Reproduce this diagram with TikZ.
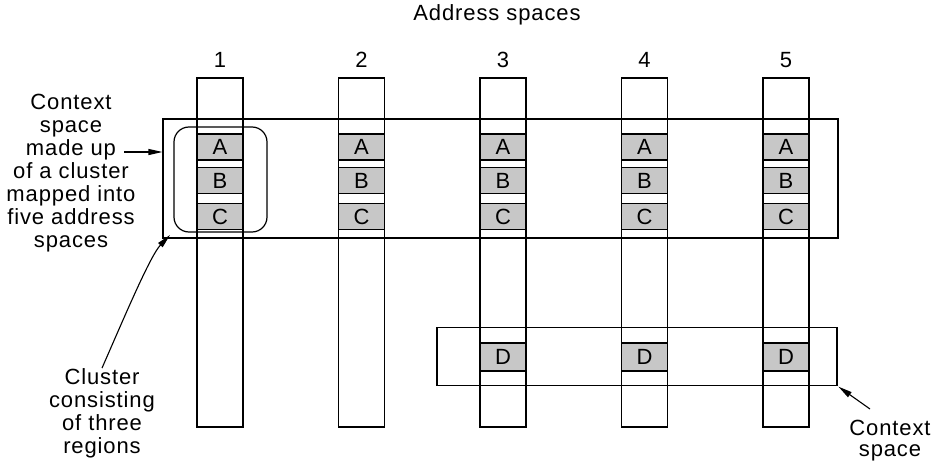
\documentclass[tikz,border=0pt]{standalone}
\usepackage{fontspec}
\setmainfont[LetterSpace=4]{Liberation Sans}
\usepackage{tikz}
\usetikzlibrary{calc,arrows.meta,positioning}

\tikzset{
  lbl/.style={font=\fontsize{22}{23}\selectfont, align=center, inner sep=0pt},
  column/.style={draw, line width=1.8pt, minimum width=46pt, minimum height=349pt, inner sep=0pt},
  region/.style={draw, fill=black!22, line width=1.4pt, minimum width=46pt, minimum height=26pt,
    inner sep=0pt, font=\fontsize{22}{23}\selectfont},
  ctxbox/.style={draw, line width=1.1pt, inner sep=0pt},
  cluster/.style={draw, line width=1.2pt, rounded corners=15pt, minimum width=93pt, minimum height=105pt},
  pointer/.style={-{Triangle[length=14pt,width=6pt]}, line width=1.1pt},
}

\begin{document}
\begin{tikzpicture}[x=1pt,y=-1pt]
  \useasboundingbox (0,0) rectangle (943,463);
  \node[lbl] (title) at (497,15) {Address spaces};
  % address spaces
  \foreach \i in {1,...,5} {
    \pgfmathsetmacro\cx{220+141.5*(\i-1)}
    \node[column] (col\i) at (\cx,252.5) {};
    \node[lbl] (num\i) at (\cx,60) {\i};
  }
  % context spaces
  \node[ctxbox, minimum width=675pt, minimum height=119pt] (ctx1) at (500.5,178.5) {};
  \node[ctxbox, minimum width=400pt, minimum height=58pt] (ctx2) at (637,356.5) {};
  % regions
  \foreach \i in {1,...,5} {
    \pgfmathsetmacro\cx{220+141.5*(\i-1)}
    \foreach \r/\ry in {A/147,B/180.5,C/216.5}
      \node[region] (\r\i) at (\cx,\ry) {\r};
  }
  \foreach \i in {3,4,5} {
    \pgfmathsetmacro\cx{220+141.5*(\i-1)}
    \node[region, minimum height=28pt] (D\i) at (\cx,357) {D};
  }
  \node[cluster] (clus) at (220.5,179.5) {};
  % labels
  \node[lbl] (ctx1lbl) at (71,173) {Context\\space\\made up\hspace{40pt}\\of a cluster\\mapped into\\five address\\spaces};
  \coordinate (madeup) at (124,152);
  \draw[pointer] (madeup) -- (madeup -| ctx1.west);
  \node[lbl] (cluslbl) at (102,413) {Cluster\\consisting\\of three\\regions};
  \coordinate (clustip) at (170,235);
  \draw[pointer] (cluslbl.north) .. controls (124,318) and (150,256) .. (clustip);
  \node[lbl, font=\fontsize{22}{21}\selectfont, anchor=north] (ctx2lbl) at (890,420) {Context\\space};
  \coordinate (ctx2tail) at (870,409);
  \draw[pointer, shorten >=1pt] (ctx2tail) -- (ctx2.south east);
\end{tikzpicture}
\end{document}
